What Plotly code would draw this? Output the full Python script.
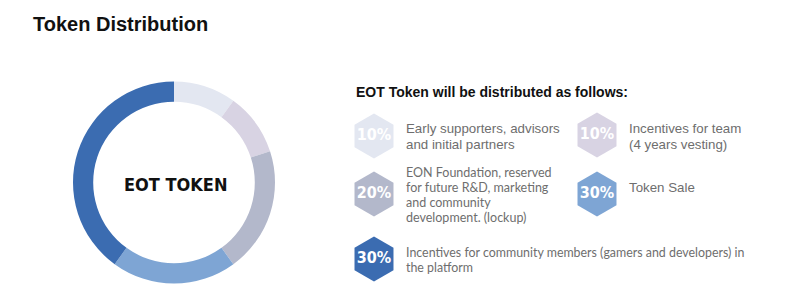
import plotly.graph_objects as go

# ---- data ----
slice_labels = ["Early supporters, advisors and initial partners",
                "Incentives for team (4 years vesting)",
                "EON Foundation (lockup)",
                "Token Sale",
                "Incentives for community members"]
slice_values = [10, 10, 20, 20, 40]
slice_colors = ["#e3e7f1", "#d8d3e3", "#b3b8cb", "#7ea5d4", "#3b6cb1"]

legend_pct = ["10%", "10%", "20%", "30%", "30%"]
legend_lines = [
    ["Early supporters, advisors", "and initial partners"],
    ["Incentives for team", "(4 years vesting)"],
    ["EON Foundation, reserved", "for future R&D, marketing", "and community", "development. (lockup)"],
    ["Token Sale"],
    ["Incentives for community members (gamers and developers) in", "the platform"],
]
legend_colors = ["#e3e7f1", "#d8d3e3", "#b3b8cb", "#7ea5d4", "#3b6cb1"]

title_text = "Token Distribution"
subtitle_text = "EOT Token will be distributed as follows:"
center_text = "EOT TOKEN"

# ---- layout constants (pixels) ----
W, H = 800, 293
hex_pos = [(374, 136), (597, 135), (374, 194), (597, 194), (374, 259)]
text_x = [404, 627, 404, 627, 404]
text_y0 = [128, 128, 172, 187, 252]
line_pitch = [16, 16, 15.3, 16, 15]
text_fonts = ["Liberation Sans", "Liberation Sans", "Lato", "Liberation Sans", "Lato"]
text_sizes = [13.3, 13.3, 12.5, 13.3, 12.4]
COND = "DejaVu Sans Condensed, DejaVu Sans"

fig = go.Figure()

fig.add_trace(go.Pie(
    labels=slice_labels, values=slice_values,
    marker=dict(colors=slice_colors, line=dict(width=0)),
    hole=0.8, sort=False, direction="clockwise", rotation=0,
    textinfo="none", showlegend=False,
    domain=dict(x=[73 / W, 275 / W], y=[1 - 284 / H, 1 - 81 / H]),
))

fig.add_trace(go.Scatter(
    x=[p[0] for p in hex_pos], y=[p[1] for p in hex_pos],
    mode="markers+text", text=legend_pct, textposition="middle center",
    textfont=dict(family=COND, size=16, color="white", weight="bold"),
    marker=dict(symbol="hexagon", size=45, color=legend_colors, line=dict(width=0)),
    showlegend=False, hoverinfo="skip", cliponaxis=False,
))

annotations = [
    dict(x=31, y=24, text=title_text, xanchor="left", yanchor="middle",
         font=dict(family="Liberation Sans", size=20, color="#111111", weight="bold")),
    dict(x=354, y=92, text=subtitle_text, xanchor="left", yanchor="middle",
         font=dict(family="Liberation Sans", size=14, color="#111111", weight="bold")),
    dict(x=176, y=184, text=center_text, xanchor="center", yanchor="middle",
         font=dict(family=COND, size=18, color="#111111", weight="bold")),
]
for i, lines in enumerate(legend_lines):
    for j, ln in enumerate(lines):
        annotations.append(dict(
            x=text_x[i], y=text_y0[i] + j * line_pitch[i], text=ln,
            xanchor="left", yanchor="middle",
            font=dict(family=text_fonts[i], size=text_sizes[i], color="#6e6e6e")))
for a in annotations:
    a.update(xref="x", yref="y", showarrow=False)

fig.update_layout(
    width=W, height=H, margin=dict(l=0, r=0, t=0, b=0),
    paper_bgcolor="white", plot_bgcolor="white",
    xaxis=dict(range=[0, W], visible=False, fixedrange=True),
    yaxis=dict(range=[H, 0], visible=False, fixedrange=True),
    annotations=annotations,
)

fig.write_html("out.html")
